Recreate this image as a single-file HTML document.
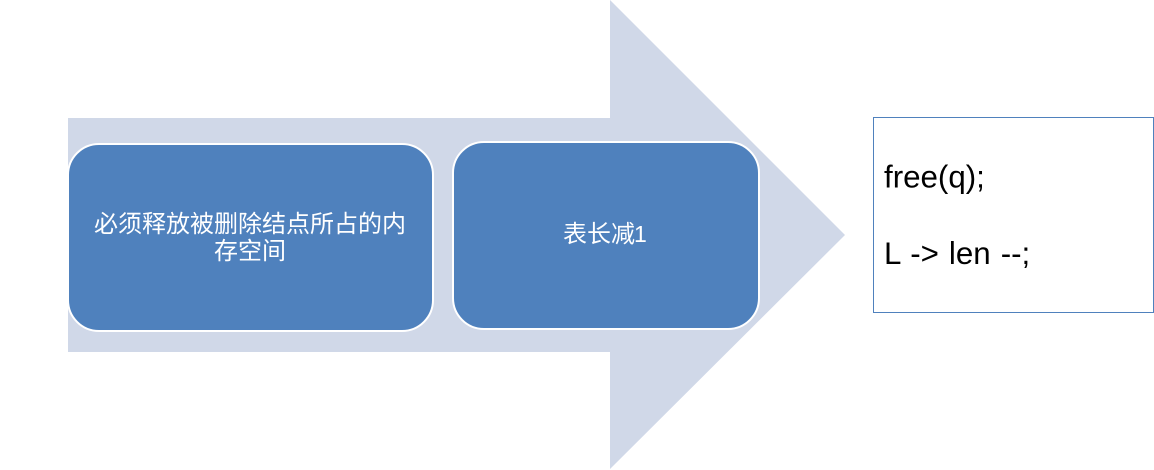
<!DOCTYPE html>
<html>
<head>
<meta charset="utf-8">
<style>
html,body{margin:0;padding:0;background:#fff;width:1154px;height:470px;overflow:hidden}
svg{display:block}
</style>
</head>
<body>
<svg width="1154" height="470" viewBox="0 0 1154 470" xmlns="http://www.w3.org/2000/svg">
<polygon points="68,118 610,118 610,0 845,235 610,469 610,352 68,352" fill="#d0d8e8"/>
<rect x="68" y="144" width="365" height="187" rx="31" ry="31" fill="#4f81bd" stroke="#fff" stroke-width="2"/>
<rect x="453" y="142" width="306" height="187" rx="31" ry="31" fill="#4f81bd" stroke="#fff" stroke-width="2"/>
<g font-family="'Liberation Sans','Noto Sans CJK SC',sans-serif" font-size="24" fill="#fff" font-weight="400">
<text x="250" y="232" text-anchor="middle">必须释放被删除结点所占的内</text>
<text x="250" y="259" text-anchor="middle">存空间</text>
<text x="563" y="242">表长减<tspan font-size="23" dx="-1">1</tspan></text>
</g>
<rect x="873.5" y="117.5" width="280" height="195" fill="#fff" stroke="#4f81bd" stroke-width="1"/>
<g font-family="'Liberation Sans',sans-serif" font-size="31.3" fill="#000">
<text x="884" y="187.5">free(q);</text>
<text x="884" y="264" word-spacing="1.3">L -&gt; len --;</text>
</g>
</svg>
</body>
</html>
